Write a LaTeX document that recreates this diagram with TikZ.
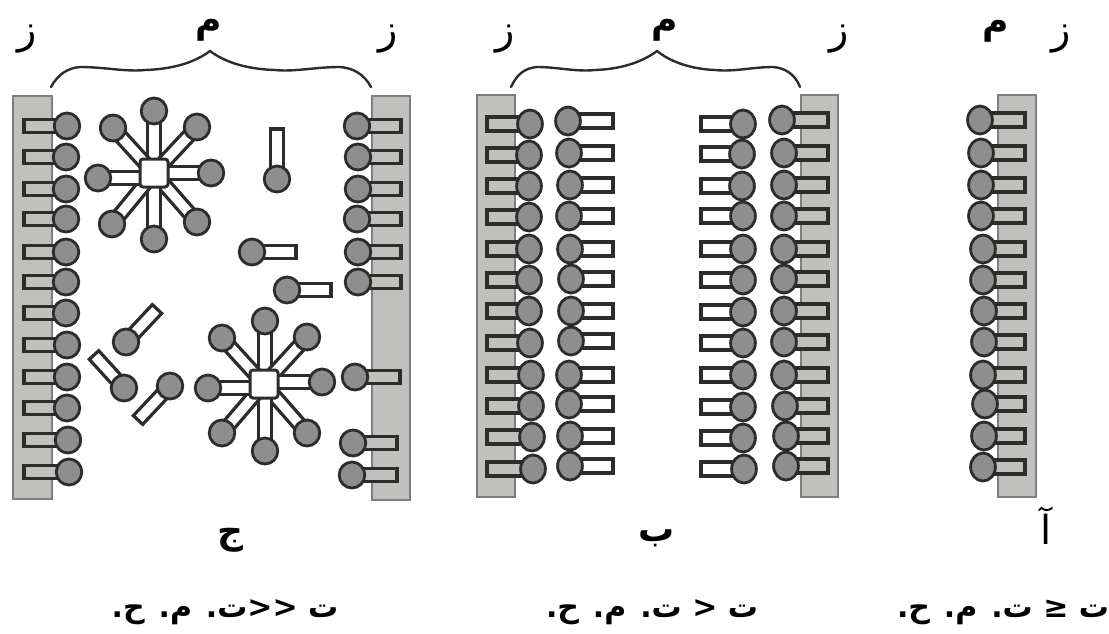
\documentclass[tikz,border=0pt]{standalone}
\usepackage{fontspec}
\TeXXeTstate=1
\newfontfamily\arabicfont[Script=Arabic]{DejaVu Sans}
\newfontfamily\arabicbold[Script=Arabic]{DejaVu Sans Bold}
\definecolor{inkdark}{HTML}{2E2C2A}
\definecolor{headgray}{HTML}{8E8E8E}
\definecolor{wallgray}{HTML}{C0C0BE}
\definecolor{walledge}{HTML}{7E7E7C}
\tikzset{
  wall/.style={fill=wallgray,draw=walledge,line width=2pt},
  tailbar/.style={draw=inkdark,line width=3.2pt},
  headball/.style={fill=headgray,draw=inkdark,line width=2.8pt},
  corebox/.style={fill=white,draw=inkdark,line width=3pt,rounded corners=3pt},
  bracket/.style={draw=inkdark,line width=2.4pt,line cap=round},
  letter/.style={font=\arabicfont\fontsize{40}{42}\selectfont,text=black,inner sep=0pt},
  bigletter/.style={font=\arabicbold\fontsize{36}{40}\selectfont,text=black,inner sep=0pt},
  caption/.style={font=\arabicbold\fontsize{30}{34}\selectfont,text=black,inner sep=0pt}
}
\newcommand{\headrx}{12.8}
\newcommand{\headry}{13}
\newcommand{\tailhalf}{6.4}
% One surfactant: tail from the head centre (#1,#2) to the tip (#3,#4), tail fill #5
\newcommand{\surfactant}[5]{%
  \pgfmathsetmacro{\tailang}{atan2(-(#4-#2),#3-#1)}%
  \pgfmathsetmacro{\taillen}{veclen(#3-#1,#4-#2)}%
  \begin{scope}[shift={(#1,#2)},rotate=\tailang]
    \draw[tailbar,fill=#5] (0,-\tailhalf) rectangle (\taillen,\tailhalf);
  \end{scope}
  \fill[headball] (#1,#2) ellipse [x radius=\headrx, y radius=\headry];}
% Micelle: white core at (#1,#2), heads listed in #3 as x/y/tip x/tip y
\newcommand{\micelle}[3]{%
  \foreach \hx/\hy/\tx/\ty in {#3} {\surfactant{\hx}{\hy}{\tx}{\ty}{white}}
  \draw[corebox] (#1-14,#2-14) rectangle (#1+14,#2+14);}
\begin{document}
\begin{tikzpicture}[x=1pt,y=-1pt]
\useasboundingbox (0,0) rectangle (1109,633);
% Walls
\draw[wall] (13,96) rectangle (52,499);
\draw[wall] (372,96) rectangle (410,500);
\draw[wall] (477,95) rectangle (515,497);
\draw[wall] (801,95) rectangle (838,497);
\draw[wall] (998,95) rectangle (1036,497);
% Left-hand system: adsorbed layers on both walls
\foreach \yy/\xx in {126/67,157/66,189/66,219/66,252/66,282/66,313/66,345/67,377/67,408/67,440/68,472/69}
  {\surfactant{\xx}{\yy}{24}{\yy}{wallgray}}
\foreach \yy/\xx/\tip in {126/357/401,157/358/401,189/358/401,219/357/401,252/358/401,282/358/401,377/355/400,443/353/397,475/352/397}
  {\surfactant{\xx}{\yy}{\tip}{\yy}{wallgray}}
% Free monomers
\surfactant{277}{179}{277}{129}{white}
\surfactant{252}{252}{296}{252}{white}
\surfactant{287}{290}{331}{290}{white}
\surfactant{126}{342}{157}{309}{white}
\surfactant{124}{388}{94}{355}{white}
\surfactant{170}{386}{138}{420}{white}
% Micelles
\micelle{154}{173}{154/111/154/173,197/127/154/173,211/173/154/173,197/222/154/173,154/239/154/173,112/224/154/173,98/178/154/178,113/128/154/173}
\micelle{264}{384}{265/321/265/384,307/337/264/384,322/382/264/382,307/433/264/384,265/451/265/384,222/433/264/384,208/388/264/388,222/338/264/384}
% Middle system: double layers
\renewcommand{\headrx}{12.4}
\renewcommand{\headry}{14}
\renewcommand{\tailhalf}{7}
\foreach \yy/\xx in {124/530,155/529,186/529,217/529,249/529,280/529,311/529,343/530,375/531,406/531,437/532,469/533}
  {\surfactant{\xx}{\yy}{487}{\yy}{wallgray}}
\foreach \yy/\xx in {121/568,153/569,185/570,216/569,249/570,279/571,311/571,341/571,375/569,404/569,436/570,466/570}
  {\surfactant{\xx}{\yy}{613}{\yy}{white}}
\foreach \yy/\xx in {124/743,154/742,186/742,216/743,249/743,280/743,312/743,343/743,375/743,407/743,438/743,469/744}
  {\surfactant{\xx}{\yy}{701}{\yy}{white}}
\foreach \yy/\xx in {120/782,153/784,185/784,216/784,249/784,279/784,311/784,342/784,375/784,406/785,436/786,466/786}
  {\surfactant{\xx}{\yy}{828}{\yy}{wallgray}}
% Right-hand system: single layer
\foreach \yy/\xx in {120/980,153/981,185/981,216/981,249/983,280/983,311/984,342/984,375/983,404/985,436/984,467/983}
  {\surfactant{\xx}{\yy}{1025}{\yy}{wallgray}}
% Braces
\coordinate (braceAa) at (51,87); \coordinate (braceAm) at (210,51); \coordinate (braceAb) at (371,87);
\coordinate (braceBa) at (511,87); \coordinate (braceBm) at (657,51); \coordinate (braceBb) at (800,87);
\draw[bracket] (braceAa) .. controls (58,74) and (68,68) .. (80,67)
  .. controls (105,67) and (125,72) .. (145,70)
  .. controls (178,69) and (198,60) .. (braceAm)
  .. controls (222,60) and (242,69) .. (275,70)
  .. controls (295,72) and (315,67) .. (340,67)
  .. controls (353,68) and (364,74) .. (braceAb);
\draw[bracket] (braceBa) .. controls (517,74) and (525,68) .. (537,67)
  .. controls (558,67) and (575,72) .. (595,70)
  .. controls (625,69) and (645,60) .. (braceBm)
  .. controls (668,60) and (688,69) .. (715,70)
  .. controls (735,72) and (752,67) .. (773,67)
  .. controls (785,68) and (795,74) .. (braceBb);
% Labels
\node[letter] (zA) at (27,39) {\beginR ز\endR};
\node[bigletter] (mA) at (209,30) {\beginR م\endR};
\node[letter] (zB) at (388,39) {\beginR ز\endR};
\node[letter] (zC) at (505,39) {\beginR ز\endR};
\node[bigletter] (mB) at (665,30) {\beginR م\endR};
\node[letter] (zD) at (839,39) {\beginR ز\endR};
\node[bigletter] (mC) at (996,31) {\beginR م\endR};
\node[letter] (zE) at (1061,39) {\beginR ز\endR};
\node[bigletter] (capC) at (230,540) {\beginR ج\endR};
\node[bigletter] (capB) at (657,538) {\beginR ب\endR};
\node[letter] (capA) at (1046,526) {\beginR آ\endR};
\node[caption] (eqC) at (225,612) {\beginR ت \beginL<<\endL ت. م. ح.\endR};
\node[caption] (eqB) at (652,612) {\beginR ت \beginL<\endL\ ت. م. ح.\endR};
\node[caption] (eqA) at (1003,612) {\beginR ت \beginL≤\endL\ ت. م. ح.\endR};
\end{tikzpicture}
\end{document}
